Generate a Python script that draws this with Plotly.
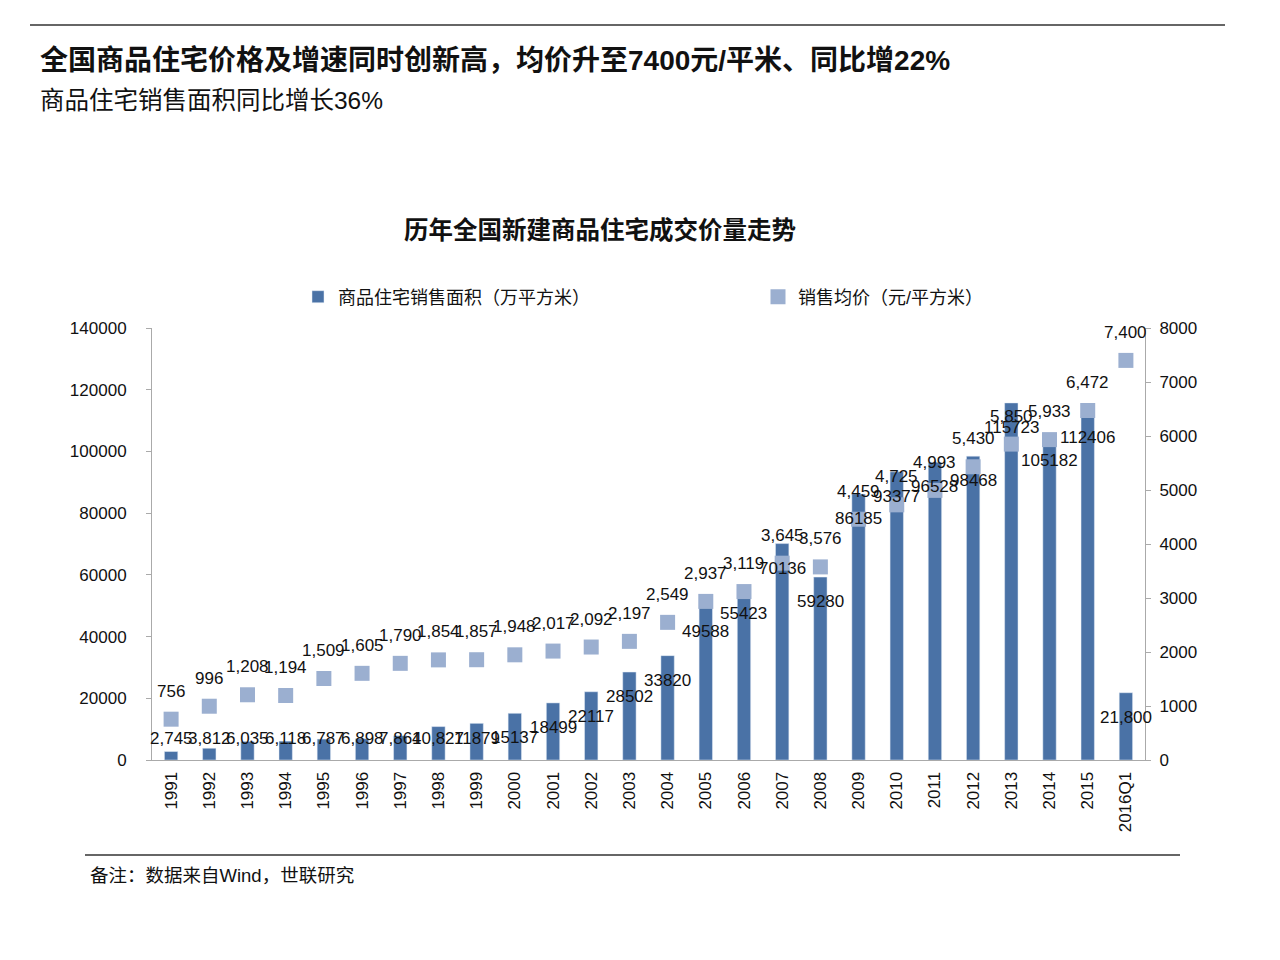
import plotly.graph_objects as go

years = ["1991", "1992", "1993", "1994", "1995", "1996", "1997", "1998", "1999",
         "2000", "2001", "2002", "2003", "2004", "2005", "2006", "2007", "2008",
         "2009", "2010", "2011", "2012", "2013", "2014", "2015", "2016Q1"]
area = [2745, 3812, 6035, 6118, 6787, 6898, 7864, 10827, 11879, 15137, 18499,
        22117, 28502, 33820, 49588, 55423, 70136, 59280, 86185, 93377, 96528,
        98468, 115723, 105182, 112406, 21800]
area_labels = ["2,745", "3,812", "6,035", "6,118", "6,787", "6,898", "7,864",
               "10,827", "11879", "15137", "18499", "22117", "28502", "33820",
               "49588", "55423", "70136", "59280", "86185", "93377", "96528",
               "98468", "115723", "105182", "112406", "21,800"]
price = [756, 996, 1208, 1194, 1509, 1605, 1790, 1854, 1857, 1948, 2017, 2092,
         2197, 2549, 2937, 3119, 3645, 3576, 4459, 4725, 4993, 5430, 5850, 5933,
         6472, 7400]

BAR = "#4a72a6"
SQ = "#9bafd0"
FONT = "Liberation Sans, Arial, Noto Sans CJK SC, sans-serif"

# plot area in page pixels (as seen in the screenshot)
L, R, T, B = 152, 1145, 328, 760
OFF = 8  # page body margin


def px(x, y):
    # page pixels -> paper coords of the plot area
    return (x - L) / (R - L), (B - y) / (B - T)


fig = go.Figure()
fig.add_trace(go.Bar(x=years, y=area, name="商品住宅销售面积（万平方米）",
                     marker_color=BAR, yaxis="y", legend="legend"))
fig.add_trace(go.Scatter(x=years, y=price, name="销售均价（元/平方米）", mode="markers",
                         marker=dict(symbol="square", size=15, color=SQ), yaxis="y2",
                         legend="legend2"))

# data labels (category index for x)
for i, (v, t) in enumerate(zip(area, area_labels)):
    fig.add_annotation(x=i, y=max(v - 8000, 7000), text=t, showarrow=False,
                       font=dict(size=17, color="#111"), xref="x", yref="y")
for i, p in enumerate(price):
    fig.add_annotation(x=i, y=p, xref="x", yref="y2", text=f"{p:,}", showarrow=False,
                       yshift=28, font=dict(size=17, color="#111"))

# titles and notes
texts = [
    (38, 60, "<b>全国商品住宅价格及增速同时创新高，均价升至7400元/平米、同比增22%</b>", 28, "left"),
    (38, 101, "商品住宅销售面积同比增长36%", 24.5, "left"),
    (600, 230, "<b>历年全国新建商品住宅成交价量走势</b>", 24.5, "center"),
    (88, 875, "备注：数据来自Wind，世联研究", 18.5, "left"),
]
for x, y, t, s, a in texts:
    xp, yp = px(x, y)
    fig.add_annotation(x=xp, y=yp, xref="paper", yref="paper", text=t,
                       showarrow=False, xanchor=a, yanchor="middle",
                       font=dict(size=s, color="#111", family=FONT))

# rules
x0, y0 = px(30, 25)
x1, _ = px(1225, 25)
x2, y2 = px(85, 855)
x3, _ = px(1180, 855)
fig.update_layout(shapes=[
    dict(type="line", xref="paper", yref="paper", x0=x0, x1=x1, y0=y0, y1=y0,
         line=dict(color="#333", width=1.5)),
    dict(type="line", xref="paper", yref="paper", x0=x2, x1=x3, y0=y2, y1=y2,
         line=dict(color="#333", width=1.5)),
])

lg1x, lgy = px(298, 297)
lg2x, _ = px(758, 297)
fig.update_layout(
    width=1280, height=960,
    margin=dict(l=L - OFF, r=1280 - R + OFF, t=T - OFF, b=960 - B + OFF),
    paper_bgcolor="white", plot_bgcolor="white",
    font=dict(family=FONT, size=17, color="#111"),
    bargap=0.65,
    showlegend=True,
    legend=dict(x=lg1x, y=lgy, xanchor="left", yanchor="middle", font=dict(size=18),
                itemwidth=30, bgcolor="rgba(0,0,0,0)"),
    legend2=dict(x=lg2x, y=lgy, xanchor="left", yanchor="middle", font=dict(size=18),
                 itemwidth=30, bgcolor="rgba(0,0,0,0)"),
    xaxis=dict(type="category", tickangle=-90, showline=True, linecolor="#aaa",
               ticks="", tickfont=dict(size=17), range=[-0.5, len(years) - 0.5],
               ticklabelstandoff=4),
    yaxis=dict(range=[0, 140000], dtick=20000, showline=True, linecolor="#aaa",
               ticks="outside", ticklen=5, tickcolor="#aaa", showgrid=False,
               tickformat="d", zeroline=False, tickfont=dict(size=17),
               ticklabelstandoff=16),
    yaxis2=dict(range=[0, 8000], dtick=1000, overlaying="y", side="right",
                showline=True, linecolor="#aaa", ticks="outside", ticklen=5,
                tickcolor="#aaa", showgrid=False, tickformat="d", zeroline=False,
                tickfont=dict(size=17), ticklabelstandoff=5),
)

fig.write_html("out.html")
